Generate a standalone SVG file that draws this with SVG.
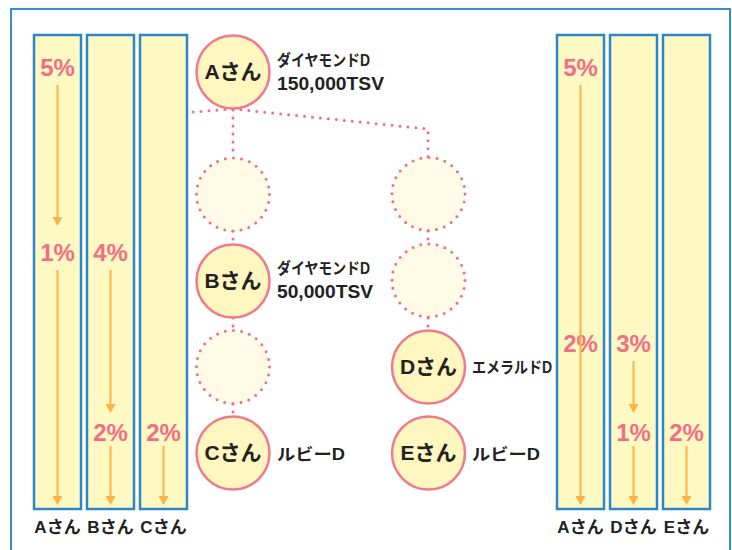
<svg xmlns="http://www.w3.org/2000/svg" width="732" height="550" viewBox="0 0 732 550">
<defs>
<style>
.frame{fill:#ffffff;stroke:#3a8ccc;stroke-width:2}
.col{fill:#fef8c2;stroke:#2c86c8;stroke-width:2.5}
.arr{stroke:#fbb444;stroke-width:2;fill:none}
.ahd{fill:#fbb444}
.pct{font-family:"Liberation Sans",Arial,sans-serif;font-weight:bold;font-size:24px;fill:#f06f86;text-anchor:middle}
.lbl{font-family:"Liberation Sans","Noto Sans CJK JP",sans-serif;font-weight:bold;font-size:17px;fill:#222;text-anchor:middle}
.node{fill:#fff6c0;stroke:#f07a8c;stroke-width:2.5}
.ghost{fill:#fffbe6;stroke:#f06f86;stroke-width:3;stroke-dasharray:0 8.2;stroke-linecap:round}
.nt{font-family:"Liberation Sans","Noto Sans CJK JP",sans-serif;font-weight:bold;font-size:21px;fill:#222;text-anchor:middle}
.side{font-family:"Liberation Sans","Noto Sans CJK JP",sans-serif;font-weight:bold;font-size:16px;fill:#222}
.side2{font-family:"Liberation Sans","Noto Sans CJK JP",sans-serif;font-size:19px;fill:#222;font-weight:bold}
.dot{stroke:#f06f86;stroke-width:3;stroke-dasharray:0 8;stroke-linecap:round;fill:none}
</style>
</defs>
<rect class="frame" x="11" y="9" width="719" height="560"/>

<g id="left-columns">
<rect class="col" x="34" y="35" width="47" height="474"/>
<rect class="col" x="87" y="35" width="47" height="474"/>
<rect class="col" x="140" y="35" width="47" height="474"/>
<text class="pct" x="57.5" y="76">5%</text>
<text class="pct" x="57.5" y="261">1%</text>
<text class="pct" x="110.5" y="261">4%</text>
<text class="pct" x="110.5" y="441">2%</text>
<text class="pct" x="163.5" y="441">2%</text>
<text class="lbl" x="57.5" y="533">Aさん</text>
<text class="lbl" x="110.5" y="533">Bさん</text>
<text class="lbl" x="163.5" y="533">Cさん</text>
</g>

<g id="right-columns">
<rect class="col" x="557" y="35" width="47" height="474"/>
<rect class="col" x="610" y="35" width="47" height="474"/>
<rect class="col" x="663" y="35" width="47" height="474"/>
<text class="pct" x="580.5" y="76">5%</text>
<text class="pct" x="580.5" y="352">2%</text>
<text class="pct" x="633.5" y="352">3%</text>
<text class="pct" x="633.5" y="441">1%</text>
<text class="pct" x="686.5" y="441">2%</text>
<text class="lbl" x="580.5" y="533">Aさん</text>
<text class="lbl" x="633.5" y="533">Dさん</text>
<text class="lbl" x="686.5" y="533">Eさん</text>
</g>

<g id="connectors">
<g class="arr">
<line x1="57.5" y1="85" x2="57.5" y2="220"/>
<line x1="57.5" y1="270" x2="57.5" y2="500"/>
<line x1="110.5" y1="270" x2="110.5" y2="407"/>
<line x1="110.5" y1="446" x2="110.5" y2="500"/>
<line x1="163.5" y1="446" x2="163.5" y2="500"/>
<line x1="580.5" y1="85" x2="580.5" y2="500"/>
<line x1="633.5" y1="361" x2="633.5" y2="407"/>
<line x1="633.5" y1="446" x2="633.5" y2="500"/>
<line x1="686.5" y1="446" x2="686.5" y2="500"/>
</g>
<g class="ahd">
<path d="M52.5,217 L62.5,217 L57.5,226 Z"/>
<path d="M52.5,496 L62.5,496 L57.5,505 Z"/>
<path d="M105.5,404 L115.5,404 L110.5,413 Z"/>
<path d="M105.5,496 L115.5,496 L110.5,505 Z"/>
<path d="M158.5,496 L168.5,496 L163.5,505 Z"/>
<path d="M575.5,496 L585.5,496 L580.5,505 Z"/>
<path d="M628.5,404 L638.5,404 L633.5,413 Z"/>
<path d="M628.5,496 L638.5,496 L633.5,505 Z"/>
<path d="M681.5,496 L691.5,496 L686.5,505 Z"/>
</g>
<path class="dot" d="M193,112 L233,109 L428,129 L428,157"/>
<line class="dot" x1="233" y1="110" x2="233" y2="157"/>
<line class="dot" x1="233" y1="231" x2="233" y2="244"/>
<line class="dot" x1="233" y1="318" x2="233" y2="330"/>
<line class="dot" x1="233" y1="404" x2="233" y2="416"/>
<line class="dot" x1="428" y1="231" x2="428" y2="244"/>
<line class="dot" x1="428" y1="318" x2="428" y2="330"/>
</g>

<g id="node-A">
<circle class="node" cx="233" cy="72" r="36.5"/>
<text class="nt" x="233" y="79">Aさん</text>
<text class="side" x="277" y="66" textLength="93" lengthAdjust="spacingAndGlyphs">ダイヤモンドD</text>
<text class="side2" x="277" y="90" textLength="107" lengthAdjust="spacingAndGlyphs">150,000TSV</text>
</g>
<g id="ghost-1"><circle class="ghost" cx="233" cy="194.5" r="36.5"/></g>
<g id="node-B">
<circle class="node" cx="233" cy="281" r="36.5"/>
<text class="nt" x="233" y="288">Bさん</text>
<text class="side" x="277" y="274" textLength="93" lengthAdjust="spacingAndGlyphs">ダイヤモンドD</text>
<text class="side2" x="277" y="298" textLength="96" lengthAdjust="spacingAndGlyphs">50,000TSV</text>
</g>
<g id="ghost-2"><circle class="ghost" cx="233" cy="367" r="36.5"/></g>
<g id="node-C">
<circle class="node" cx="233" cy="453" r="36.5"/>
<text class="nt" x="233" y="460">Cさん</text>
<text class="side" x="277" y="460" textLength="68" lengthAdjust="spacingAndGlyphs">ルビーD</text>
</g>
<g id="ghost-3"><circle class="ghost" cx="428.5" cy="194" r="36.5"/></g>
<g id="ghost-4"><circle class="ghost" cx="428.5" cy="280.5" r="36.5"/></g>
<g id="node-D">
<circle class="node" cx="428.5" cy="367" r="36.5"/>
<text class="nt" x="428.5" y="374">Dさん</text>
<text class="side" x="472" y="373" textLength="80" lengthAdjust="spacingAndGlyphs">エメラルドD</text>
</g>
<g id="node-E">
<circle class="node" cx="428.5" cy="453" r="36.5"/>
<text class="nt" x="428.5" y="460">Eさん</text>
<text class="side" x="472" y="460" textLength="68" lengthAdjust="spacingAndGlyphs">ルビーD</text>
</g>
</svg>
